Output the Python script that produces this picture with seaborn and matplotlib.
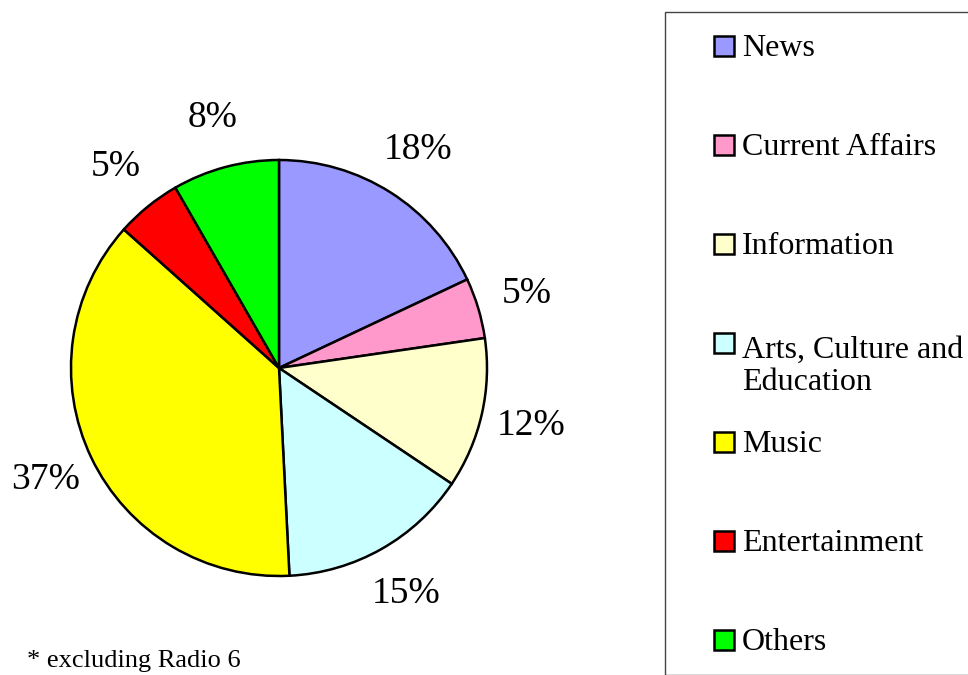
import matplotlib
matplotlib.use("Agg")
import matplotlib.pyplot as plt
from matplotlib.patches import Rectangle
import seaborn as sns

categories = ["News", "Current Affairs", "Information", "Arts, Culture and\nEducation",
              "Music", "Entertainment", "Others"]
shares = [18.0, 4.7, 11.7, 14.8, 37.4, 5.1, 8.3]
pct_labels = ["18%", "5%", "12%", "15%", "37%", "5%", "8%"]
colors = ["#9999FF", "#FF99CC", "#FFFFCC", "#CCFFFF", "#FFFF00", "#FF0000", "#00FF00"]
footnote = "* excluding Radio 6"

sns.set_theme(style="white")
plt.rcParams["font.family"] = ["Liberation Serif", "DejaVu Serif"]

W, H = 968, 675
fig = plt.figure(figsize=(W / 100, H / 100), dpi=100)
fig.patch.set_facecolor("white")

cx, cy, R = 279, 368, 208
ax = fig.add_axes([(cx - R) / W, (H - cy - R) / H, 2 * R / W, 2 * R / H])
wedges, texts = ax.pie(shares, colors=colors, startangle=90, counterclock=False,
                       labels=pct_labels, labeldistance=1.245,
                       wedgeprops=dict(edgecolor="black", linewidth=1.8),
                       textprops=dict(fontsize=27, color="black"))
for t in texts:
    t.set_ha("center")
    t.set_va("center")
ax.set_xlim(-1, 1)
ax.set_ylim(-1, 1)
ax.set_aspect("equal")
ax.axis("off")

# legend box
fig.patches.append(Rectangle((665 / W, 0), (W + 10 - 665) / W, (H - 12) / H,
                             transform=fig.transFigure, facecolor="none",
                             edgecolor="#444444", linewidth=1.0, clip_on=False))
base0, step, line_h = 56, 99, 37
for i, (lab, col) in enumerate(zip(categories, colors)):
    b = base0 + step * i
    nlines = lab.count("\n") + 1
    fig.patches.append(Rectangle((714 / W, (H - b) / H), 20 / W, 20 / H,
                                 transform=fig.transFigure, facecolor=col,
                                 edgecolor="black", linewidth=1.8))
    fig.text(742 / W, (H - b - line_h * (nlines - 1)) / H, lab, fontsize=23,
             ha="left", va="baseline", linespacing=1.16, color="black")

fig.text(27 / W, (H - 667) / H, footnote, fontsize=19, ha="left", va="baseline", color="black")

fig.savefig("out.png", dpi=100)
